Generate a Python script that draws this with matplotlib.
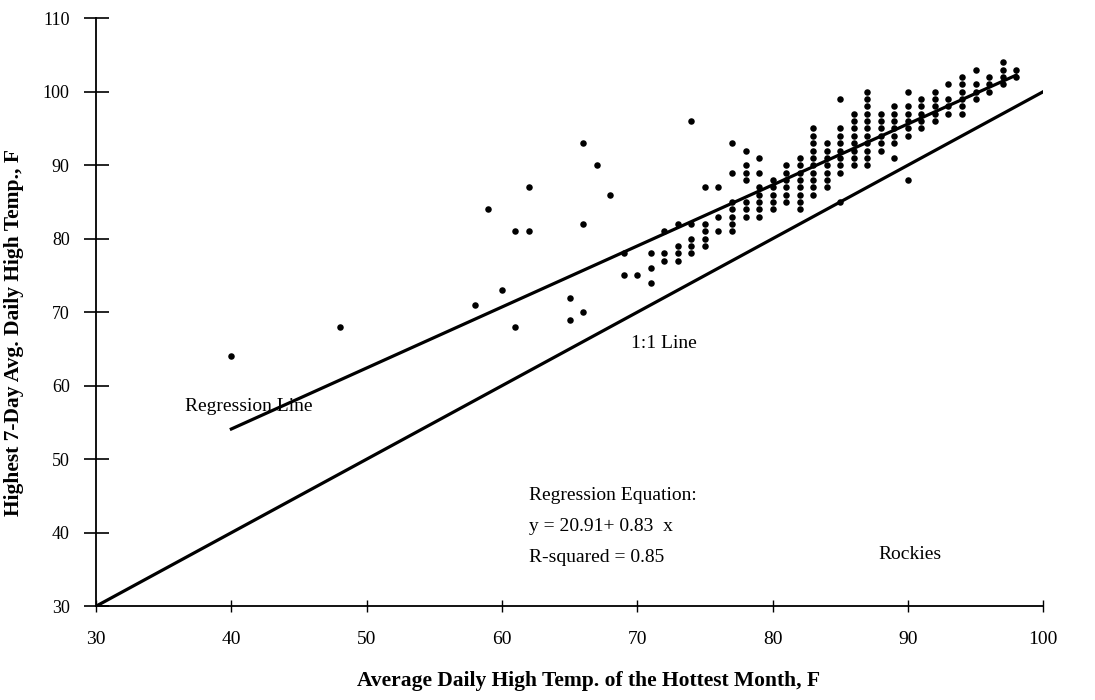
import numpy as np
import matplotlib.pyplot as plt

plt.rcParams['font.family'] = ['Liberation Serif', 'DejaVu Serif']

# station columns: avg daily high of hottest month (x) -> highest 7-day avg (y values)
col_x = [40, 48, 58, 59, 60, 61, 62, 65, 66, 67, 68, 69, 70, 71, 72, 73, 74, 75,
         76, 77, 78, 79, 80, 81, 82, 83, 84, 85, 86, 87, 88, 89, 90, 91, 92, 93,
         94, 95, 96, 97, 98]
col_y = [
    [64], [68], [71], [84], [73], [81, 68], [87, 81], [72, 69], [93, 82, 70],
    [90], [86], [78, 75], [75], [78, 76, 74], [81, 78, 77], [82, 79, 78, 77],
    [96, 82, 80, 79, 78], [87, 82, 81, 80, 79], [87, 83, 81],
    [93, 89, 85, 84, 83, 82, 81], [92, 90, 89, 88, 85, 84, 83],
    [91, 89, 87, 86, 85, 84, 83], [88, 87, 86, 85, 84],
    [90, 89, 88, 87, 86, 85], [91, 90, 89, 88, 87, 86, 85, 84],
    [95, 94, 93, 92, 91, 90, 89, 88, 87, 86], [93, 92, 91, 90, 89, 88, 87],
    [99, 95, 94, 93, 92, 91, 90, 89, 85], [97, 96, 95, 94, 93, 92, 91, 90],
    [100, 99, 98, 97, 96, 95, 94, 93, 92, 91, 90], [97, 96, 95, 94, 93, 92],
    [98, 97, 96, 95, 94, 93, 91], [100, 98, 97, 96, 95, 94, 88],
    [99, 98, 97, 96, 95], [100, 99, 98, 97, 96], [101, 99, 98, 97],
    [102, 101, 100, 99, 98, 97], [103, 101, 100, 99], [102, 101, 100],
    [104, 103, 102, 101], [103, 102],
]

# regression fit and its range
intercept = 20.91
slope = 0.83
reg_x = [40, 98]
one_x = [30, 100]

x_ticks = [30, 40, 50, 60, 70, 80, 90, 100]
y_ticks = [30, 40, 50, 60, 70, 80, 90, 100, 110]

xs = np.concatenate([[x] * len(ys) for x, ys in zip(col_x, col_y)])
ys = np.concatenate([np.array(v, dtype=float) for v in col_y])

fig = plt.figure(figsize=(10.95, 7.0), dpi=100)
ax = fig.add_axes([0.0877, 0.134, 0.865, 0.840])

ax.scatter(xs, ys, s=22, color='black', linewidths=0, zorder=3)
rx = np.array(reg_x, dtype=float)
ax.plot(rx, intercept + slope * rx, color='black', lw=2.3, zorder=2)
ax.plot(one_x, one_x, color='black', lw=2.3, zorder=2)

ax.set_xlim(30, 100)
ax.set_ylim(30, 110)
ax.set_xticks(x_ticks)
ax.set_yticks(y_ticks)

for side in ['top', 'right']:
    ax.spines[side].set_visible(False)
for side in ['left', 'bottom']:
    ax.spines[side].set_linewidth(1.3)

ax.tick_params(axis='y', direction='inout', length=18, width=1.2, pad=10, labelsize=13)
ax.tick_params(axis='x', direction='inout', length=8, width=1.0, pad=14, labelsize=14)

ax.set_xlabel('Average Daily High Temp. of the Hottest Month, F', fontsize=15.5,
              fontweight='bold')
ax.set_ylabel('Highest 7-Day Avg. Daily High Temp., F', fontsize=15.5,
              fontweight='bold')
ax.xaxis.label.set_va('center')
ax.yaxis.label.set_va('center')
ax.xaxis.set_label_coords(0.52, -0.128)
ax.yaxis.set_label_coords(-0.087, 0.465)

ax.text(36.6, 57.2, 'Regression Line', fontsize=14, va='center', ha='left')
ax.text(72.0, 65.7, '1:1 Line', fontsize=14, va='center', ha='center')
ax.text(62.0, 45.0, 'Regression Equation:', fontsize=14, va='center', ha='left')
ax.text(62.0, 40.8, 'y = 20.91+ 0.83  x', fontsize=14, va='center', ha='left')
ax.text(62.0, 36.6, 'R-squared = 0.85', fontsize=14, va='center', ha='left')
ax.text(87.8, 37.0, 'Rockies', fontsize=14, va='center', ha='left')

fig.savefig('out.png', dpi=100)
